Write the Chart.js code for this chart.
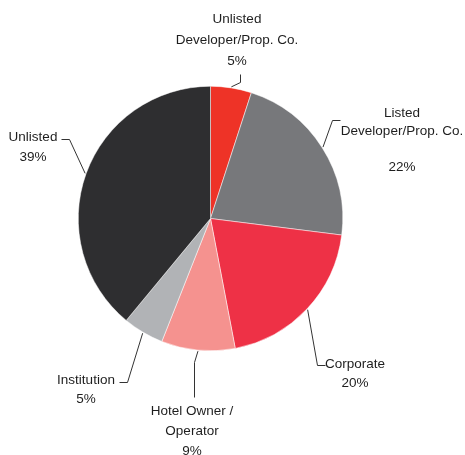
<!DOCTYPE html>
<html>
<head>
<meta charset="utf-8">
<script src="https://cdn.jsdelivr.net/npm/chart.js@4"></script>
<style>
  body { margin: 0; background: #fff; }
  #wrap { width: 465px; height: 455px; }
</style>
</head>
<body>
<div id="wrap"><canvas id="canvasOne" width="465" height="455"></canvas></div>
<script>
// data (clockwise from 12 o'clock)
var categories = ['Unlisted Developer/Prop. Co.', 'Listed Developer/Prop. Co.', 'Corporate', 'Hotel Owner / Operator', 'Institution', 'Unlisted'];
var shares = [5, 22, 20, 9, 5, 39];
var labelLines = [
  ['Unlisted', 'Developer/Prop. Co.', '5%'],
  ['Listed', 'Developer/Prop. Co.', '', '22%'],
  ['Corporate', '20%'],
  ['Hotel Owner /', 'Operator', '9%'],
  ['Institution', '5%'],
  ['Unlisted', '39%']
];
var colors = ['#ee3327', '#77787b', '#ee3146', '#f5928f', '#b1b3b6', '#2e2e30'];

// label layout: text centre x, first line y, line height, leader elbow + end points
var labelLayout = [
  { x: 237, y: 19, lh: 21, path: [[240, 82], [240, 74]] },
  { x: 402, y: 113, lh: 18, path: [[332, 120], [340, 120]] },
  { x: 355, y: 364, lh: 19, path: [[317, 365], [325, 365]] },
  { x: 192, y: 411, lh: 20, path: [[194, 362], [194, 397]] },
  { x: 86, y: 380, lh: 19, path: [[127, 382], [119, 382]] },
  { x: 33, y: 137, lh: 20, path: [[69, 139], [61, 139]] }
];

var labelPlugin = {
  id: 'pieLabels',
  afterDraw: function(chart) {
    var ctx = chart.ctx;
    var meta = chart.getDatasetMeta(0);
    ctx.save();
    ctx.font = '13.5px "Liberation Sans", Arial, sans-serif';
    ctx.fillStyle = '#1e1e1e';
    ctx.textAlign = 'center';
    ctx.textBaseline = 'middle';
    meta.data.forEach(function(arc, i) {
      var L = labelLayout[i];
      labelLines[i].forEach(function(t, k) {
        if (t) ctx.fillText(t, L.x, L.y + k * L.lh);
      });
      // leader line from the middle of the slice rim
      var p = arc.getProps(['x', 'y', 'startAngle', 'endAngle', 'outerRadius'], true);
      var a = (p.startAngle + p.endAngle) / 2;
      var r = p.outerRadius + 1;
      ctx.beginPath();
      ctx.strokeStyle = '#333';
      ctx.lineWidth = 1;
      ctx.moveTo(p.x + Math.cos(a) * r, p.y + Math.sin(a) * r);
      L.path.forEach(function(pt) { ctx.lineTo(pt[0] + 0.5, pt[1] + 0.5); });
      ctx.stroke();
    });
    ctx.restore();
  }
};

var ctx = document.getElementById('canvasOne').getContext('2d');
var config = {
  type: 'pie',
  data: {
    labels: categories,
    datasets: [{
      data: shares,
      backgroundColor: colors,
      borderColor: '#ffffff',
      borderWidth: 0.5
    }]
  },
  options: {
    responsive: false,
    animation: false,
    layout: { padding: { left: 78, right: 122, top: 86, bottom: 104 } },
    plugins: {
      legend: { display: false },
      tooltip: { enabled: false }
    }
  },
  plugins: [labelPlugin]
};

var chart = new Chart(ctx, config);
</script>
</body>
</html>
